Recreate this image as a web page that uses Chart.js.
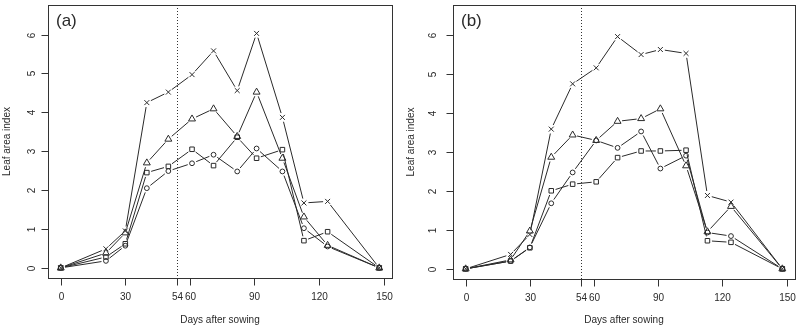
<html>
<head>
  <script src="https://cdn.jsdelivr.net/npm/chart.js"></script>
  <title>Leaf area index</title>
  <style>
    body { margin: 0; background: #fff; }
    #wrap { display: flex; width: 800px; height: 328px; }
    canvas { display: block; }
  </style>
</head>
<body>
  <div id="wrap">
    <canvas id="chartA" width="400" height="328"></canvas>
    <canvas id="chartB" width="400" height="328"></canvas>
  </div>
  <script>
    // sampling days (days after sowing)
    const days = [0, 21, 30, 40, 50, 61, 71, 82, 91, 103, 113, 124, 148];
    const xTicks = [0, 30, 54, 60, 90, 120, 150];
    const yTicks = [0, 1, 2, 3, 4, 5, 6];
    const markerDay = 54;

    // panel (a)
    const aCross = [0, 0.49, 0.95, 4.25, 4.52, 4.97, 5.58, 4.56, 6.03, 3.87, 1.67, 1.71, 0];
    const aTri = [0, 0.38, 0.9, 2.7, 3.31, 3.83, 4.09, 3.38, 4.52, 2.82, 1.31, 0.58, 0];
    const aSq = [0, 0.28, 0.62, 2.45, 2.61, 3.05, 2.63, 3.36, 2.82, 3.04, 0.7, 0.93, 0];
    const aCirc = [0, 0.18, 0.57, 2.05, 2.49, 2.69, 2.91, 2.48, 3.07, 2.48, 1.02, 0.55, 0];

    // panel (b)
    const bCross = [0, 0.37, 0.88, 3.58, 4.74, 5.15, 5.95, 5.49, 5.62, 5.52, 1.88, 1.71, 0];
    const bTri = [0, 0.23, 0.97, 2.86, 3.43, 3.29, 3.78, 3.85, 4.1, 2.64, 0.95, 1.6, 0];
    const bSq = [0, 0.2, 0.54, 2.0, 2.17, 2.23, 2.85, 3.02, 3.02, 3.04, 0.72, 0.68, 0];
    const bCirc = [0, 0.2, 0.55, 1.68, 2.47, 3.29, 3.1, 3.52, 2.57, 2.9, 0.93, 0.84, 0];

    const ink = "#2a2a2a";
    const font = "Liberation Sans, Arial, sans-serif";

    function toPoints(vals) {
      return vals.map((v, i) => ({ x: days[i], y: v }));
    }

    function makeSet(vals, style, radius) {
      return {
        data: toPoints(vals),
        showLine: false,
        pointStyle: style,
        pointRadius: radius,
        pointBorderColor: ink,
        pointBackgroundColor: "rgba(0,0,0,0)",
        pointBorderWidth: 1,
      };
    }

    // R-like frame: box, outward ticks, rotated y labels, dotted line, titles
    const rFrame = {
      id: "rFrame",
      beforeDatasetsDraw(chart, args, opts) {
        const { ctx } = chart;
        ctx.save();
        ctx.strokeStyle = ink;
        ctx.lineWidth = 1;
        // connecting lines with gaps around the symbols (type = "b")
        chart.data.datasets.forEach((ds, di) => {
          const pts = chart.getDatasetMeta(di).data;
          for (let i = 0; i < pts.length - 1; i++) {
            const p = pts[i], q = pts[i + 1];
            const dx = q.x - p.x, dy = q.y - p.y;
            const len = Math.sqrt(dx * dx + dy * dy);
            const gap = 4.5;
            if (len <= gap * 2) continue;
            const ux = dx / len, uy = dy / len;
            ctx.beginPath();
            ctx.moveTo(p.x + ux * gap, p.y + uy * gap);
            ctx.lineTo(q.x - ux * gap, q.y - uy * gap);
            ctx.stroke();
          }
        });
        ctx.restore();
      },
      afterDraw(chart, args, opts) {
        const { ctx, chartArea: a } = chart;
        const xs = chart.scales.x, ys = chart.scales.y;
        ctx.save();
        ctx.strokeStyle = "#333";
        ctx.lineWidth = 1;
        ctx.strokeRect(Math.round(a.left) + 0.5, Math.round(a.top) + 0.5,
          Math.round(a.right - a.left), Math.round(a.bottom - a.top));

        // dotted line at day 54
        const mx = Math.round(xs.getPixelForValue(markerDay)) + 0.5;
        ctx.setLineDash([1, 2]);
        ctx.beginPath();
        ctx.moveTo(mx, a.top);
        ctx.lineTo(mx, a.bottom);
        ctx.stroke();
        ctx.setLineDash([]);

        ctx.fillStyle = ink;
        ctx.font = "10px " + font;
        ctx.textAlign = "center";
        ctx.textBaseline = "middle";
        // x ticks
        const bot = Math.round(a.bottom) + 0.5;
        xTicks.forEach((t) => {
          const x = Math.round(xs.getPixelForValue(t)) + 0.5;
          ctx.beginPath();
          ctx.moveTo(x, bot);
          ctx.lineTo(x, bot + 7);
          ctx.stroke();
          ctx.fillText(String(t), x, bot + 19);
        });
        // y ticks with labels parallel to the axis
        const lft = Math.round(a.left) + 0.5;
        yTicks.forEach((t) => {
          const y = Math.round(ys.getPixelForValue(t)) + 0.5;
          ctx.beginPath();
          ctx.moveTo(lft, y);
          ctx.lineTo(lft - 7, y);
          ctx.stroke();
          ctx.save();
          ctx.translate(lft - opts.yLabelGap, y);
          ctx.rotate(-Math.PI / 2);
          ctx.fillText(String(t), 0, 0);
          ctx.restore();
        });
        // axis titles
        ctx.fillText("Days after sowing", (a.left + a.right) / 2, 320);
        ctx.save();
        ctx.translate(opts.yTitleX, (a.top + a.bottom) / 2);
        ctx.rotate(-Math.PI / 2);
        ctx.fillText("Leaf area index", 0, 0);
        ctx.restore();
        // panel tag
        ctx.font = "17px " + font;
        ctx.textAlign = "left";
        ctx.fillText(opts.tag, a.left + 8, 21);
        ctx.restore();
      },
    };

    function makeChart(id, cross, tri, sq, circ, pad, frame) {
      return new Chart(document.getElementById(id).getContext("2d"), {
        type: "scatter",
        data: {
          datasets: [
            makeSet(cross, "crossRot", 3.5),
            makeSet(tri, "triangle", 4),
            makeSet(sq, "rect", 3.2),
            makeSet(circ, "circle", 2.4),
          ],
        },
        options: {
          responsive: false,
          animation: false,
          layout: { padding: pad },
          scales: {
            x: { type: "linear", min: -5.92, max: 153.92, display: false },
            y: { type: "linear", min: -0.26, max: 6.76, display: false },
          },
          plugins: {
            legend: { display: false },
            tooltip: { enabled: false },
            rFrame: frame,
          },
        },
        plugins: [rFrame],
      });
    }

    makeChart("chartA", aCross, aTri, aSq, aCirc,
      { left: 48, right: 8, top: 2, bottom: 50 },
      { tag: "(a)", yLabelGap: 16, yTitleX: 7.5 });
    makeChart("chartB", bCross, bTri, bSq, bCirc,
      { left: 53, right: 2, top: 2, bottom: 49 },
      { tag: "(b)", yLabelGap: 20, yTitleX: 11.5 });
  </script>
</body>
</html>
